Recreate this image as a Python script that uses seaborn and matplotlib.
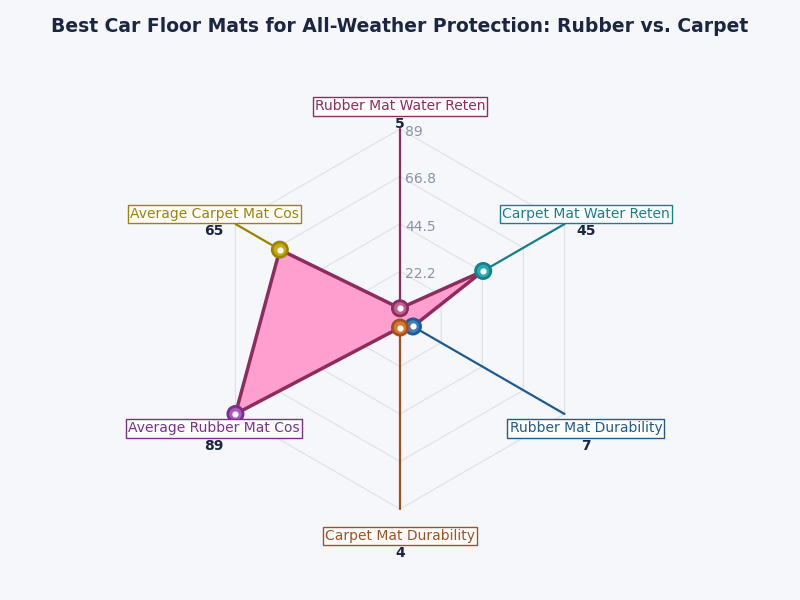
import numpy as np
import matplotlib
matplotlib.use("Agg")
import matplotlib.pyplot as plt
import seaborn as sns

categories = ["Rubber Mat Water Reten", "Carpet Mat Water Reten", "Rubber Mat Durability",
              "Carpet Mat Durability", "Average Rubber Mat Cos", "Average Carpet Mat Cos"]
values = [5, 45, 7, 4, 89, 65]
axis_colors = ["#8e2c5e", "#16808a", "#1f5a91", "#a5501c", "#7a2f90", "#9c8400"]
marker_faces = ["#c0608f", "#2aaab3", "#3a7fc4", "#d9792e", "#a85cc0", "#c9aa10"]
tick_values = [22.2, 44.5, 66.8, 89]
title = "Best Car Floor Mats for All-Weather Protection: Rubber vs. Carpet"

sns.set_theme(style="white")
plt.rcParams['font.family'] = ['DejaVu Sans']

bg = "#f5f7fb"
rmax = max(values)
n = len(categories)
angles = np.deg2rad(90 - 360 / n * np.arange(n))

fig = plt.figure(figsize=(8, 6), dpi=100, facecolor=bg)
ax = fig.add_axes([0, 0, 1, 1])
ax.set_facecolor(bg)
scale = 190 / rmax  # pixels per unit
ax.set_xlim(-400 / scale, 400 / scale)
ax.set_ylim(-281 / scale, 319 / scale)
ax.axis("off")

cx, cy = np.cos(angles), np.sin(angles)

# hexagonal grid
for t in [rmax / 4, rmax / 2, rmax * 3 / 4, rmax]:
    ax.plot(np.append(cx, cx[0]) * t, np.append(cy, cy[0]) * t,
            color="#dde1e8", lw=0.8, zorder=1)
for i in range(n):
    ax.plot([0, cx[i] * rmax], [0, cy[i] * rmax], color="#dde1e8", lw=0.8, zorder=1)

# coloured spokes
for i in range(n):
    ax.plot([0, cx[i] * rmax], [0, cy[i] * rmax], color=axis_colors[i], lw=1.6, zorder=2)

# radial tick labels
for t, lab in zip([rmax / 4, rmax / 2, rmax * 3 / 4, rmax], tick_values):
    ax.text(2.4, t - 1.3, f"{lab:g}", color="#8a93a6", fontsize=10, ha="left", va="center", zorder=6)

# data polygon
px = np.array(values) * cx
py = np.array(values) * cy
ax.fill(px, py, color="#ff9fd0", zorder=3)
ax.plot(np.append(px, px[0]), np.append(py, py[0]), color="#8e2c5e", lw=2.5, zorder=4)

sns.scatterplot(x=px, y=py, hue=categories, palette=marker_faces, s=120,
                edgecolor=axis_colors, linewidth=2, legend=False, zorder=5, ax=ax)
ax.scatter(px, py, s=12, color="white", zorder=6)

# axis labels and values
lab_r = rmax * 1.13
for i in range(n):
    x, y = cx[i] * lab_r, cy[i] * lab_r - 1.0
    ax.text(x, y, categories[i], color=axis_colors[i], fontsize=10, ha="center", va="center",
            bbox=dict(boxstyle="square,pad=0.15", facecolor="white", edgecolor=axis_colors[i], lw=1),
            zorder=7)
    ax.text(x, y - 8.0, str(values[i]), color="#1c2541", fontsize=10, fontweight="bold",
            ha="center", va="center", zorder=7)

fig.text(0.5, 0.955, title, ha="center", va="center", fontsize=13.5, fontweight="bold",
         color="#1c2541")

fig.savefig("out.png", dpi=100, facecolor=bg)
